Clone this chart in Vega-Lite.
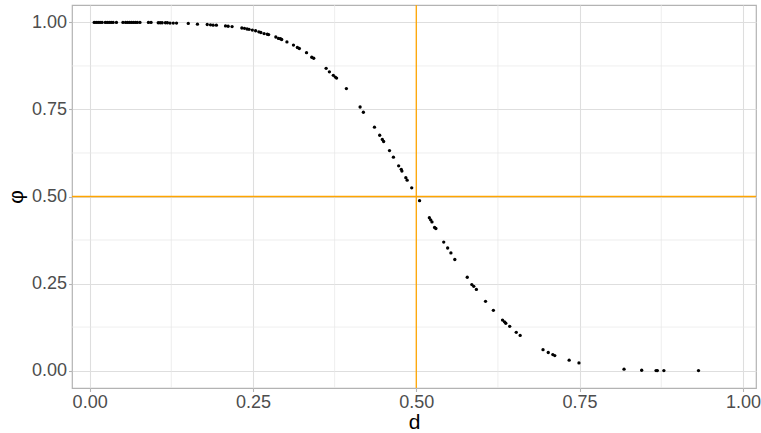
{
  "$schema": "https://vega.github.io/schema/vega-lite/v6.json",
  "width": 684,
  "height": 383,
  "autosize": {"type": "none"},
  "padding": {"left": 72, "top": 5, "right": 5, "bottom": 45},
  "background": "white",
  "config": {
    "font": "Liberation Sans",
    "view": {"stroke": "#B3B3B3", "strokeWidth": 1.2},
    "axis": {
      "domain": false,
      "grid": true,
      "gridColor": "#DEDEDE",
      "gridWidth": 1.1,
      "tickColor": "#B3B3B3",
      "tickSize": 3.5,
      "tickWidth": 1.1,
      "labelColor": "#4D4D4D",
      "labelFont": "Liberation Sans",
      "labelFontSize": 18,
      "labelPadding": 2,
      "titleFont": "Liberation Sans",
      "titleFontWeight": "normal",
      "titleColor": "#000000",
      "titleFontSize": 21
    }
  },
  "datasets": {
    "minor": [{"g": 0.125}, {"g": 0.375}, {"g": 0.625}, {"g": 0.875}],
    "pts": [
      {"d": 0.007, "phi": 1.000}, {"d": 0.010, "phi": 1.000}, {"d": 0.013, "phi": 1.000},
      {"d": 0.016, "phi": 1.000}, {"d": 0.019, "phi": 1.000}, {"d": 0.024, "phi": 1.000},
      {"d": 0.027, "phi": 1.000}, {"d": 0.030, "phi": 1.000}, {"d": 0.033, "phi": 1.000},
      {"d": 0.036, "phi": 1.000}, {"d": 0.041, "phi": 1.000}, {"d": 0.051, "phi": 1.000},
      {"d": 0.055, "phi": 1.000}, {"d": 0.058, "phi": 1.000}, {"d": 0.061, "phi": 1.000},
      {"d": 0.064, "phi": 1.000}, {"d": 0.067, "phi": 1.000}, {"d": 0.070, "phi": 1.000},
      {"d": 0.073, "phi": 1.000}, {"d": 0.077, "phi": 1.000}, {"d": 0.090, "phi": 1.000},
      {"d": 0.094, "phi": 1.000}, {"d": 0.105, "phi": 0.999}, {"d": 0.108, "phi": 0.999},
      {"d": 0.111, "phi": 0.999}, {"d": 0.116, "phi": 0.999}, {"d": 0.119, "phi": 0.999},
      {"d": 0.123, "phi": 0.998}, {"d": 0.128, "phi": 0.998}, {"d": 0.133, "phi": 0.998},
      {"d": 0.151, "phi": 0.997}, {"d": 0.165, "phi": 0.995}, {"d": 0.180, "phi": 0.994},
      {"d": 0.185, "phi": 0.993}, {"d": 0.189, "phi": 0.992}, {"d": 0.194, "phi": 0.992},
      {"d": 0.208, "phi": 0.990}, {"d": 0.212, "phi": 0.989}, {"d": 0.218, "phi": 0.988},
      {"d": 0.233, "phi": 0.984}, {"d": 0.237, "phi": 0.983}, {"d": 0.241, "phi": 0.981},
      {"d": 0.244, "phi": 0.980}, {"d": 0.249, "phi": 0.978}, {"d": 0.254, "phi": 0.976},
      {"d": 0.259, "phi": 0.973}, {"d": 0.262, "phi": 0.971}, {"d": 0.267, "phi": 0.968},
      {"d": 0.272, "phi": 0.966}, {"d": 0.274, "phi": 0.965}, {"d": 0.285, "phi": 0.958},
      {"d": 0.289, "phi": 0.954}, {"d": 0.292, "phi": 0.953}, {"d": 0.294, "phi": 0.951},
      {"d": 0.302, "phi": 0.944}, {"d": 0.312, "phi": 0.935}, {"d": 0.318, "phi": 0.928},
      {"d": 0.321, "phi": 0.925}, {"d": 0.332, "phi": 0.913}, {"d": 0.340, "phi": 0.900},
      {"d": 0.343, "phi": 0.897}, {"d": 0.362, "phi": 0.868}, {"d": 0.367, "phi": 0.858},
      {"d": 0.373, "phi": 0.848}, {"d": 0.376, "phi": 0.843}, {"d": 0.378, "phi": 0.840},
      {"d": 0.393, "phi": 0.810}, {"d": 0.414, "phi": 0.757}, {"d": 0.419, "phi": 0.742},
      {"d": 0.436, "phi": 0.699}, {"d": 0.444, "phi": 0.676}, {"d": 0.448, "phi": 0.664},
      {"d": 0.450, "phi": 0.658}, {"d": 0.459, "phi": 0.632}, {"d": 0.465, "phi": 0.613},
      {"d": 0.473, "phi": 0.588}, {"d": 0.477, "phi": 0.578}, {"d": 0.478, "phi": 0.573},
      {"d": 0.484, "phi": 0.554}, {"d": 0.486, "phi": 0.547}, {"d": 0.493, "phi": 0.525},
      {"d": 0.505, "phi": 0.488}, {"d": 0.520, "phi": 0.439}, {"d": 0.522, "phi": 0.433},
      {"d": 0.524, "phi": 0.427}, {"d": 0.528, "phi": 0.411}, {"d": 0.530, "phi": 0.408},
      {"d": 0.542, "phi": 0.369}, {"d": 0.548, "phi": 0.352}, {"d": 0.553, "phi": 0.338},
      {"d": 0.559, "phi": 0.319}, {"d": 0.578, "phi": 0.268}, {"d": 0.585, "phi": 0.247},
      {"d": 0.588, "phi": 0.242}, {"d": 0.592, "phi": 0.233}, {"d": 0.606, "phi": 0.199},
      {"d": 0.618, "phi": 0.173}, {"d": 0.632, "phi": 0.145}, {"d": 0.635, "phi": 0.140},
      {"d": 0.637, "phi": 0.136}, {"d": 0.643, "phi": 0.127}, {"d": 0.653, "phi": 0.110},
      {"d": 0.659, "phi": 0.101}, {"d": 0.694, "phi": 0.060}, {"d": 0.702, "phi": 0.052},
      {"d": 0.709, "phi": 0.046}, {"d": 0.712, "phi": 0.043}, {"d": 0.734, "phi": 0.030},
      {"d": 0.749, "phi": 0.022}, {"d": 0.818, "phi": 0.004}, {"d": 0.845, "phi": 0.001},
      {"d": 0.867, "phi": 0.000}, {"d": 0.869, "phi": 0.000}, {"d": 0.879, "phi": 0.000},
      {"d": 0.932, "phi": 0.000}
    ]
  },
  "layer": [
    {
      "description": "minor vertical grid lines",
      "data": {"name": "minor"},
      "mark": {"type": "rule", "color": "#E6E6E6", "strokeWidth": 0.7},
      "encoding": {"x": {"field": "g", "type": "quantitative"}}
    },
    {
      "description": "minor horizontal grid lines",
      "data": {"name": "minor"},
      "mark": {"type": "rule", "color": "#E6E6E6", "strokeWidth": 0.7},
      "encoding": {"y": {"field": "g", "type": "quantitative"}}
    },
    {
      "data": {"name": "pts"},
      "mark": {"type": "point", "filled": true, "color": "#000000", "opacity": 1, "size": 11},
      "encoding": {
        "x": {
          "field": "d", "type": "quantitative", "title": "d",
          "scale": {"domain": [-0.027, 1.02], "nice": false, "zero": false},
          "axis": {"values": [0, 0.25, 0.5, 0.75, 1], "format": ".2f", "titlePadding": 0}
        },
        "y": {
          "field": "phi", "type": "quantitative", "title": "φ",
          "scale": {"domain": [-0.05, 1.05], "nice": false, "zero": false},
          "axis": {"values": [0, 0.25, 0.5, 0.75, 1], "format": ".2f", "titlePadding": 5}
        }
      }
    },
    {
      "description": "reference line at d = 0.5",
      "data": {"values": [{}]},
      "mark": {"type": "rule", "color": "#FFA500", "strokeWidth": 1.3},
      "encoding": {"x": {"datum": 0.5, "type": "quantitative"}}
    },
    {
      "description": "reference line at phi = 0.5",
      "data": {"values": [{}]},
      "mark": {"type": "rule", "color": "#FFA500", "strokeWidth": 1.3},
      "encoding": {"y": {"datum": 0.5, "type": "quantitative"}}
    }
  ]
}
